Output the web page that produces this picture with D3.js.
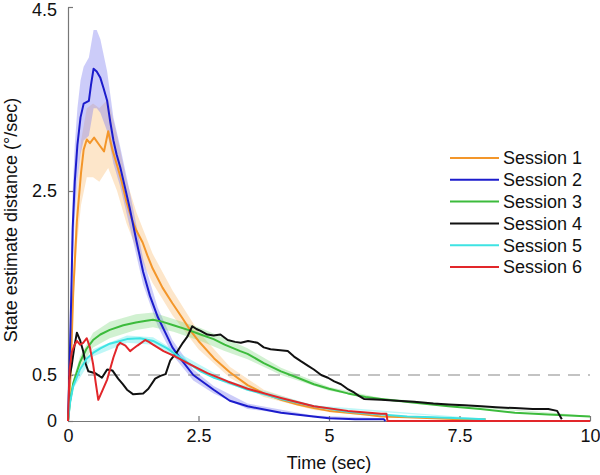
<!DOCTYPE html>
<html>
<head>
<meta charset="utf-8">
<script src="https://cdn.jsdelivr.net/npm/d3@7"></script>
<style>
  body { margin: 0; background: #fff; }
  text { font-family: "Liberation Sans", Arial, sans-serif; }
</style>
</head>
<body>
<div id="container"></div>
<script>
/* DATA */
const xTicks = [0, 2.5, 5, 7.5, 10]
const yTicks = [0, 0.5, 2.5, 4.5]
const names = ["Session 1", "Session 2", "Session 3", "Session 4", "Session 5", "Session 6"]
const colors = ["#f3962a", "#1c1ccc", "#3cbb3c", "#111111", "#3ee3e3", "#e2262a"]
const threshold = 0.5

// [time, value]
const session1 = [[0,0],[0.05,0.5],[0.1,1.4],[0.17,2.17],[0.25,2.7],[0.3,2.95],[0.36,3.06],[0.42,3.02],[0.5,3.08],[0.6,3.0],[0.69,2.93],[0.77,3.15],[0.85,2.95],[0.94,2.78],[1.03,2.6],[1.12,2.38],[1.22,2.2],[1.31,2.07],[1.43,1.94],[1.52,1.8],[1.62,1.66],[1.81,1.45],[2.0,1.28],[2.19,1.12],[2.35,0.98],[2.5,0.87],[2.8,0.68],[3.1,0.53],[3.44,0.39],[3.75,0.3],[4.08,0.23],[4.4,0.18],[4.71,0.14],[5.0,0.11],[5.36,0.09],[5.7,0.07],[6.0,0.05],[6.5,0.04],[7,0.03],[7.5,0.02],[8,0.02]]
const session2 = [[0,0],[0.03,0.6],[0.06,1.3],[0.09,2.1],[0.13,2.6],[0.18,3.0],[0.24,3.3],[0.3,3.45],[0.4,3.48],[0.44,3.65],[0.49,3.83],[0.55,3.8],[0.62,3.73],[0.68,3.62],[0.75,3.48],[0.81,3.25],[0.87,3.05],[0.93,2.9],[1.0,2.76],[1.05,2.64],[1.18,2.32],[1.31,1.96],[1.44,1.62],[1.57,1.36],[1.72,1.13],[1.89,0.93],[2.0,0.8],[2.15,0.68],[2.4,0.5],[2.79,0.34],[3.1,0.22],[3.44,0.16],[4.08,0.09],[4.7,0.05],[5.0,0.03],[5.5,0.02],[6.05,0.02],[6.08,0]]
const session3 = [[0,0],[0.04,0.22],[0.1,0.41],[0.23,0.64],[0.35,0.78],[0.48,0.88],[0.62,0.94],[0.8,0.99],[1.06,1.04],[1.3,1.07],[1.5,1.09],[1.63,1.1],[1.8,1.08],[2.02,1.04],[2.3,0.99],[2.54,0.94],[2.79,0.89],[3.0,0.83],[3.3,0.76],[3.44,0.73],[3.75,0.63],[4.08,0.54],[4.4,0.47],[4.71,0.4],[5.0,0.35],[5.36,0.3],[5.7,0.26],[6.0,0.24],[6.6,0.2],[7.29,0.16],[7.9,0.13],[8.56,0.09],[9.2,0.07],[10,0.05]]
const session4 = [[0.02,0.45],[0.07,0.6],[0.12,0.8],[0.17,0.96],[0.23,0.88],[0.29,0.76],[0.34,0.62],[0.39,0.54],[0.52,0.52],[0.65,0.47],[0.75,0.56],[0.85,0.55],[0.96,0.46],[1.05,0.4],[1.13,0.34],[1.25,0.29],[1.44,0.3],[1.54,0.35],[1.67,0.46],[1.77,0.49],[1.87,0.51],[1.96,0.66],[2.1,0.76],[2.2,0.85],[2.29,0.92],[2.38,1.03],[2.46,1.0],[2.54,0.98],[2.67,0.94],[2.79,0.93],[2.92,0.94],[3.06,0.88],[3.2,0.86],[3.31,0.85],[3.45,0.87],[3.63,0.85],[3.75,0.8],[3.88,0.78],[4.21,0.76],[4.33,0.7],[4.46,0.65],[4.6,0.6],[4.71,0.56],[4.85,0.5],[4.98,0.47],[5.1,0.43],[5.23,0.4],[5.35,0.35],[5.48,0.31],[5.58,0.27],[5.67,0.24],[6.0,0.23],[6.3,0.22],[6.63,0.21],[7.0,0.19],[7.29,0.18],[7.6,0.17],[7.92,0.16],[8.2,0.15],[8.56,0.14],[8.9,0.13],[9.2,0.13],[9.37,0.11],[9.46,0.02]]
const session5 = [[0,0],[0.04,0.2],[0.1,0.38],[0.23,0.56],[0.36,0.68],[0.48,0.74],[0.62,0.79],[0.8,0.84],[1.0,0.87],[1.13,0.89],[1.38,0.9],[1.63,0.87],[1.9,0.79],[2.15,0.69],[2.54,0.54],[2.8,0.47],[3.06,0.42],[3.44,0.34],[4.08,0.24],[4.71,0.16],[5.36,0.1],[6.0,0.07],[6.5,0.05],[7.0,0.04],[7.5,0.03],[8,0.02]]
const session6 = [[0,0],[0.03,0.55],[0.07,0.74],[0.12,0.82],[0.17,0.87],[0.23,0.83],[0.29,0.85],[0.36,0.9],[0.42,0.8],[0.48,0.62],[0.53,0.42],[0.58,0.23],[0.65,0.32],[0.75,0.45],[0.87,0.69],[0.95,0.82],[1.0,0.85],[1.1,0.82],[1.19,0.76],[1.26,0.79],[1.33,0.82],[1.48,0.88],[1.55,0.86],[1.63,0.83],[1.83,0.76],[2.02,0.71],[2.29,0.63],[2.67,0.52],[3.06,0.43],[3.3,0.38],[3.44,0.35],[4.08,0.25],[4.71,0.16],[5.36,0.11],[6.0,0.08],[6.1,0.08],[6.12,0],[10,0]]

// shaded error bands [time, low, high]
const band1 = [[0,0,0],[0.1,1.2,1.6],[0.17,1.9,2.5],[0.25,2.35,3.05],[0.36,2.65,3.4],[0.48,2.65,3.45],[0.6,2.6,3.4],[0.77,2.75,3.5],[0.94,2.5,3.1],[1.12,2.15,2.62],[1.31,1.87,2.27],[1.62,1.5,1.82],[2.0,1.15,1.42],[2.5,0.78,0.97],[3.1,0.47,0.59],[3.75,0.26,0.34],[4.71,0.12,0.16],[6,0.04,0.06]]
const band2 = [[0,0,0],[0.06,1.0,1.6],[0.09,1.7,2.5],[0.13,2.2,3.0],[0.18,2.6,3.4],[0.24,2.9,3.7],[0.3,3.05,3.85],[0.4,3.1,3.95],[0.49,3.4,4.25],[0.55,3.4,4.25],[0.62,3.35,4.15],[0.75,3.15,3.8],[0.87,2.8,3.3],[1.0,2.55,2.98],[1.18,2.12,2.5],[1.44,1.48,1.76],[1.72,1.03,1.23],[2.0,0.72,0.88],[2.4,0.44,0.56],[2.79,0.3,0.38],[3.44,0.13,0.19],[4.7,0.04,0.06],[6.05,0.01,0.03]]
const band3 = [[0,0,0],[0.1,0.37,0.45],[0.23,0.58,0.7],[0.48,0.8,0.96],[0.8,0.9,1.08],[1.3,0.99,1.16],[1.63,1.02,1.18],[2.02,0.97,1.11],[2.54,0.87,1.01],[3.0,0.76,0.9],[3.44,0.67,0.79],[4.08,0.5,0.58],[5,0.33,0.37],[6,0.23,0.25],[10,0.045,0.055]]
const band5 = [[0,0,0],[0.1,0.35,0.41],[0.48,0.7,0.78],[1.13,0.85,0.93],[1.63,0.83,0.91],[2.15,0.65,0.73],[3.06,0.4,0.44],[4.71,0.15,0.17],[8,0.015,0.025]]

const sessions = [session1, session2, session3, session4, session5, session6]
const bands = [
  { data: band1, fill: "#f9b868", opacity: 0.35 },
  { data: band2, fill: "#8080f0", opacity: 0.4 },
  { data: band3, fill: "#7ad87a", opacity: 0.35 },
  { data: band5, fill: "#70eeee", opacity: 0.45 }
]

/* CONSTANTS */
const width = 600, height = 475
const margin = { top: 7, bottom: 54, left: 68, right: 10 }

/* SCALES */
const xScale = d3.scaleLinear()
  .domain([0, 10])
  .range([margin.left, width - margin.right])

const yScale = d3.scaleLinear()
  .domain([0, 4.5])
  .range([height - margin.bottom, margin.top])

/* SVG */
const svg = d3.select("#container")
  .append("svg")
  .attr("width", width)
  .attr("height", height)

// bands
const area = d3.area()
  .x(d => xScale(d[0]))
  .y0(d => yScale(d[1]))
  .y1(d => yScale(d[2]))

svg.selectAll(".band")
  .data(bands)
  .join("path")
  .attr("class", "band")
  .attr("d", d => area(d.data))
  .attr("fill", d => d.fill)
  .attr("opacity", d => d.opacity)

// threshold line
svg.append("line")
  .attr("x1", xScale(0))
  .attr("x2", xScale(10))
  .attr("y1", yScale(threshold))
  .attr("y2", yScale(threshold))
  .attr("stroke", "#888")
  .attr("stroke-width", 1.2)
  .attr("stroke-dasharray", "12,8")

// axes
const xAxis = d3.axisBottom(xScale)
  .tickValues(xTicks)
  .tickSizeInner(-5)
  .tickSizeOuter(0)
  .tickPadding(8)
  .tickFormat(d3.format("~g"))

svg.append("g")
  .attr("transform", `translate(0, ${yScale(0)})`)
  .call(xAxis)

const yAxis = d3.axisLeft(yScale)
  .tickValues(yTicks)
  .tickSizeInner(-5)
  .tickSizeOuter(0)
  .tickPadding(11)
  .tickFormat(d3.format("~g"))

const gy = svg.append("g")
  .attr("transform", `translate(${xScale(0)}, 0)`)
  .call(yAxis)

// keep the top label inside the frame
gy.selectAll(".tick text").filter(d => d === 4.5).attr("dy", "0.45em")

svg.selectAll(".domain, .tick line").attr("stroke", "#777").attr("stroke-width", 1.2)
svg.selectAll(".tick text")
  .attr("font-size", 18)
  .attr("fill", "#111")
  .style("font-family", "'Liberation Sans', Arial, sans-serif")

// lines
const line = d3.line()
  .x(d => xScale(d[0]))
  .y(d => yScale(d[1]))

svg.selectAll(".session")
  .data(sessions)
  .join("path")
  .attr("class", "session")
  .attr("d", d => line(d))
  .attr("fill", "none")
  .attr("stroke", (d, i) => colors[i])
  .attr("stroke-width", 2)
  .attr("stroke-linejoin", "round")

// axis titles
svg.append("text")
  .attr("x", (xScale(0) + xScale(10)) / 2)
  .attr("y", 469)
  .attr("text-anchor", "middle")
  .attr("font-size", 18)
  .attr("fill", "#111")
  .text("Time (sec)")

svg.append("text")
  .attr("transform", "translate(17, 220) rotate(-90)")
  .attr("text-anchor", "middle")
  .attr("font-size", 18)
  .attr("fill", "#111")
  .text("State estimate distance (°/sec)")

// legend
const legend = svg.append("g")
  .attr("transform", "translate(450, 158)")

const item = legend.selectAll(".item")
  .data(names)
  .join("g")
  .attr("class", "item")
  .attr("transform", (d, i) => `translate(0, ${i * 21.8})`)

item.append("line")
  .attr("x1", 0).attr("x2", 49)
  .attr("stroke", (d, i) => colors[i])
  .attr("stroke-width", 2)

item.append("text")
  .attr("x", 53)
  .attr("dy", "0.35em")
  .attr("font-size", 18)
  .attr("fill", "#111")
  .text(d => d)
</script>
</body>
</html>
